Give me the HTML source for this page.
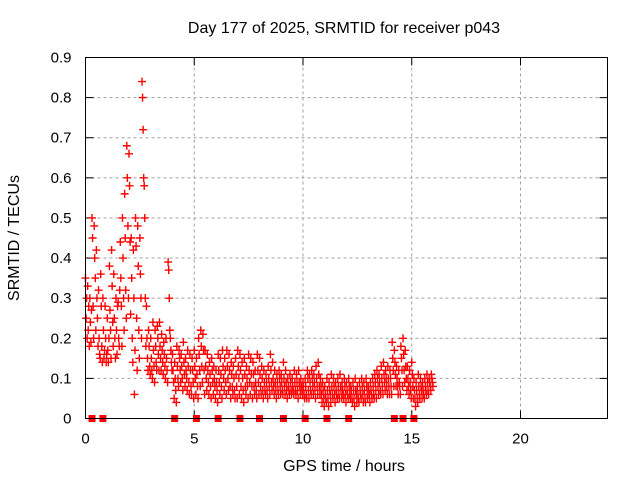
<!DOCTYPE html>
<html><head><meta charset="utf-8"><style>
body{margin:0;background:#fff;}
svg text{font-family:"Liberation Sans",sans-serif;font-size:15px;fill:#000;}
svg text.big{font-size:16px;}
</style></head><body>
<svg id="chart" width="640" height="480" xmlns="http://www.w3.org/2000/svg">
<rect width="640" height="480" fill="#fff"/>
<text class="big" x="344" y="33" text-anchor="middle">Day 177 of 2025, SRMTID for receiver p043</text>
<text class="big" x="344" y="471" text-anchor="middle">GPS time / hours</text>
<text class="big" x="19" y="238" text-anchor="middle" transform="rotate(-90 19 238)">SRMTID / TECUs</text>
<g id="grid"></g><g id="axes"></g><g id="marks"></g>
<rect x="85.5" y="57.5" width="522" height="361" fill="none" stroke="#000" stroke-width="1"/>
</svg>
<script>
const xTicks=[0,5,10,15,20];
const yTicks=[0,0.1,0.2,0.3,0.4,0.5,0.6,0.7,0.8,0.9];
const yTickLabels=["0","0.1","0.2","0.3","0.4","0.5","0.6","0.7","0.8","0.9"];
const zeroTimes=[0.3,0.8,4.1,5.1,6.1,7.1,8.0,9.1,10.1,11.1,12.1,14.2,14.6,15.1];
const binTimes=[0.0,0.1,0.2,0.3,0.4,0.5,0.6,0.7,0.8,0.9,1.0,1.1,1.2,1.3,1.4,1.5,1.6,1.7,1.8,1.9,2.0,2.1,2.2,2.3,2.4,2.5,2.6,2.7,2.8,2.9,3.0,3.1,3.2,3.3,3.4,3.5,3.6,3.7,3.8,3.9,4.0,4.1,4.2,4.3,4.4,4.5,4.6,4.7,4.8,4.9,5.0,5.1,5.2,5.3,5.4,5.5,5.6,5.7,5.8,5.9,6.0,6.1,6.2,6.3,6.4,6.5,6.6,6.7,6.8,6.9,7.0,7.1,7.2,7.3,7.4,7.5,7.6,7.7,7.8,7.9,8.0,8.1,8.2,8.3,8.4,8.5,8.6,8.7,8.8,8.9,9.0,9.1,9.2,9.3,9.4,9.5,9.6,9.7,9.8,9.9,10.0,10.1,10.2,10.3,10.4,10.5,10.6,10.7,10.8,10.9,11.0,11.1,11.2,11.3,11.4,11.5,11.6,11.7,11.8,11.9,12.0,12.1,12.2,12.3,12.4,12.5,12.6,12.7,12.8,12.9,13.0,13.1,13.2,13.3,13.4,13.5,13.6,13.7,13.8,13.9,14.0,14.1,14.2,14.3,14.4,14.5,14.6,14.7,14.8,14.9,15.0,15.1,15.2,15.3,15.4,15.5,15.6,15.7,15.8,15.9];
const binValues=[
[.35,.25,.3,.2],[.33,.22,.28,.18],[.3,.24,.19,.27],[.5,.45,.28,.2],[.48,.4,.35,.22],[.42,.3,.25,.18],[.32,.2,.16,.15],[.36,.28,.18,.14],[.3,.22,.15,.17],[.28,.2,.14,.16],
[.25,.17,.14,.2],[.38,.27,.22,.15],[.42,.33,.24,.18],[.36,.25,.2,.15],[.3,.22,.16,.28],[.29,.2,.18,.32],[.44,.35,.28,.18],[.5,.4,.3,.22],[.56,.45,.32,.25],[.68,.6,.48,.3],
[.66,.58,.44,.26],[.45,.35,.2,.14],[.42,.3,.06,.17],[.5,.43,.25,.12],[.48,.38,.22,.15],[.45,.36,.3,.2],[.84,.8,.72,.6],[.58,.5,.3,.18],[.28,.2,.15,.12],[.22,.18,.13,.11],
[.2,.15,.12,.1],[.24,.17,.13,.09],[.22,.18,.14,.12],[.23,.2,.16,.12],[.24,.18,.15,.12],[.21,.17,.14,.11],[.19,.16,.13,.1],[.2,.15,.12,.09],[.39,.37,.3,.22],[.2,.17,.14,.12],
[.16,.12,.09,.05],[.14,.1,.07,.04],[.18,.13,.1,.08],[.17,.15,.12,.09],[.16,.13,.1,.07],[.19,.14,.11,.08],[.15,.12,.1,.07],[.17,.13,.09,.06],[.16,.12,.08,.06],[.15,.12,.09,.05],
[.17,.13,.1,.06],[.15,.11,.08,.05],[.2,.16,.12,.08],[.22,.18,.13,.09],[.21,.17,.12,.06],[.17,.13,.1,.07],[.16,.12,.09,.06],[.14,.11,.08,.05],[.15,.12,.09,.06],[.13,.1,.08,.05],
[.12,.09,.07,.04],[.16,.12,.09,.06],[.15,.11,.08,.05],[.17,.13,.1,.07],[.15,.12,.09,.06],[.17,.13,.1,.07],[.16,.12,.08,.05],[.14,.11,.08,.06],[.13,.1,.07,.05],[.15,.11,.08,.05],
[.17,.13,.1,.06],[.16,.12,.08,.05],[.14,.1,.07,.04],[.15,.11,.08,.06],[.13,.1,.08,.05],[.16,.12,.09,.06],[.15,.11,.08,.05],[.14,.11,.08,.06],[.12,.09,.07,.05],[.16,.12,.09,.06],
[.15,.11,.08,.06],[.13,.1,.07,.05],[.12,.09,.07,.06],[.11,.09,.07,.05],[.13,.1,.08,.06],[.16,.12,.09,.07],[.14,.1,.08,.06],[.12,.09,.07,.05],[.11,.09,.07,.06],[.12,.1,.08,.06],
[.11,.09,.07,.06],[.14,.1,.08,.06],[.12,.09,.07,.05],[.1,.08,.07,.06],[.11,.09,.07,.06],[.1,.08,.07,.06],[.12,.09,.07,.06],[.11,.09,.07,.05],[.12,.09,.08,.06],[.1,.08,.07,.06],
[.09,.08,.06,.05],[.1,.08,.06,.05],[.12,.1,.07,.05],[.11,.09,.07,.06],[.12,.1,.08,.06],[.11,.09,.07,.05],[.13,.1,.08,.06],[.14,.11,.08,.06],[.1,.08,.06,.04],[.09,.07,.05,.03],
[.08,.06,.05,.04],[.1,.07,.05,.03],[.09,.07,.06,.04],[.11,.08,.06,.05],[.1,.08,.06,.04],[.09,.07,.06,.05],[.1,.08,.06,.05],[.11,.08,.07,.05],[.09,.07,.06,.05],[.1,.08,.06,.04],
[.09,.07,.06,.05],[.1,.08,.06,.05],[.08,.07,.05,.04],[.09,.07,.05,.03],[.1,.07,.06,.04],[.08,.06,.05,.04],[.09,.07,.06,.05],[.1,.08,.06,.04],[.09,.07,.05,.04],[.1,.08,.06,.05],
[.08,.07,.06,.04],[.09,.07,.06,.05],[.1,.08,.06,.05],[.11,.09,.07,.05],[.12,.1,.08,.06],[.11,.09,.07,.06],[.13,.1,.08,.06],[.14,.11,.09,.07],[.12,.1,.08,.06],[.13,.1,.08,.06],
[.12,.1,.08,.06],[.19,.15,.12,.08],[.17,.14,.11,.08],[.13,.1,.08,.06],[.12,.09,.08,.06],[.18,.15,.12,.08],[.2,.16,.12,.09],[.17,.13,.1,.07],[.13,.1,.08,.06],[.12,.09,.07,.05],
[.14,.11,.08,.05],[.1,.07,.05,.03],[.09,.07,.05,.04],[.11,.08,.06,.05],[.1,.08,.07,.05],[.09,.07,.06,.05],[.1,.08,.07,.06],[.11,.09,.07,.06],[.1,.09,.08,.07],[.11,.1,.09,.08]];

const X0=85.5,X1=607.5,XMAX=24,Y0=418.5,Y1=57.5,YMAX=0.9;
const xs=t=>X0+t/XMAX*(X1-X0);
const ys=v=>Y0-v/YMAX*(Y0-Y1);
const NS="http://www.w3.org/2000/svg";
function mk(tag,attrs,parent){const e=document.createElementNS(NS,tag);for(const k in attrs)e.setAttribute(k,attrs[k]);parent.appendChild(e);return e;}
const grid=document.getElementById('grid'),axes=document.getElementById('axes'),marks=document.getElementById('marks');
yTicks.forEach((v,i)=>{
  if(v>0&&v<YMAX){const g=mk('line',{x1:X0,x2:X1,y1:ys(v),y2:ys(v),stroke:'#a0a0a0','stroke-dasharray':'3,3'},grid);
  
  }
  mk('line',{x1:X0,x2:X0+8,y1:ys(v),y2:ys(v),stroke:'#000'},axes);
  mk('line',{x1:X1-8,x2:X1,y1:ys(v),y2:ys(v),stroke:'#000'},axes);
  const t=mk('text',{x:X0-14,y:ys(v)+5,'text-anchor':'end'},axes);t.textContent=yTickLabels[i];
  
  
});
xTicks.forEach(h=>{
  if(h>0){const g=mk('line',{x1:xs(h),x2:xs(h),y1:Y0,y2:Y1,stroke:'#a0a0a0','stroke-dasharray':'3,3'},grid);
  
  }
  mk('line',{x1:xs(h),x2:xs(h),y1:Y0,y2:Y0-8,stroke:'#000'},axes);
  mk('line',{x1:xs(h),x2:xs(h),y1:Y1,y2:Y1+8,stroke:'#000'},axes);
  const t=mk('text',{x:xs(h),y:Y0+25,'text-anchor':'middle'},axes);t.textContent=String(h);
  
  
});
let d='';
binTimes.forEach((t,i)=>{
  (binValues[i]||[]).forEach((v,k)=>{
    const x=xs(t+k*0.025),y=ys(v);
    d+=`M${x-4},${y}h8M${x},${y-4}v8`;
  });
});
const p=mk('path',{d:d,stroke:'#ff0000','stroke-width':1.4,fill:'none'},marks);


zeroTimes.forEach(t=>{
  const r=mk('rect',{x:xs(t)-3.5,y:ys(0)-3.5,width:7,height:7,fill:'#ff0000'},marks);
  
  
});
</script>
</body></html>
